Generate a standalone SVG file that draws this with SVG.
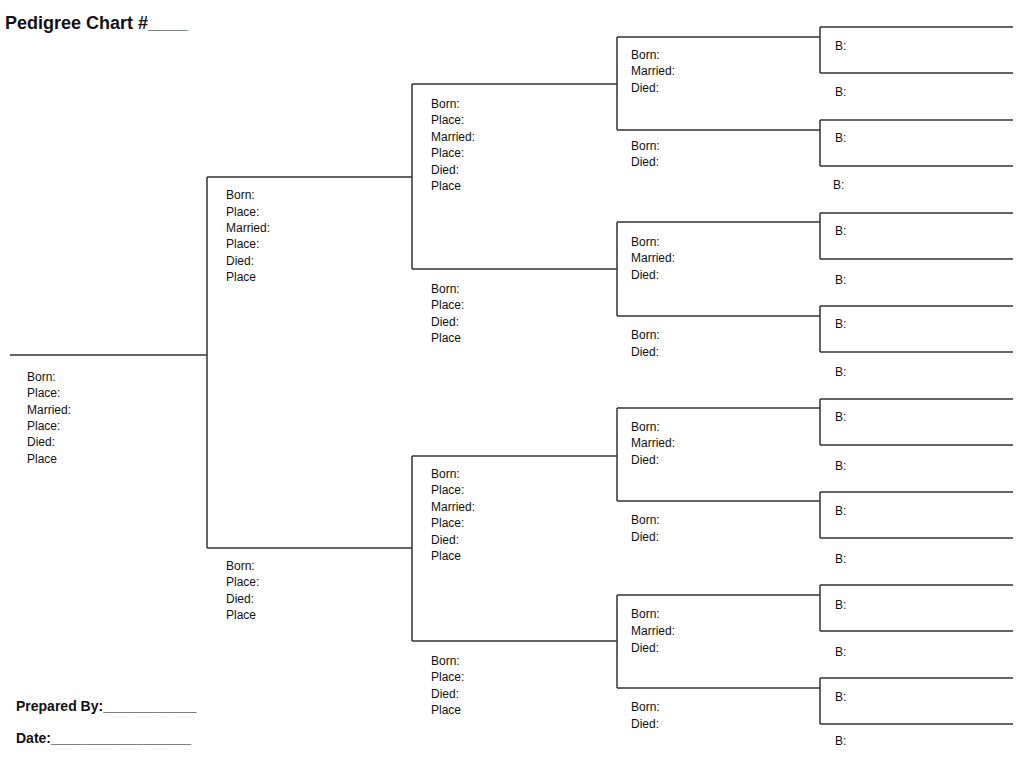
<svg xmlns="http://www.w3.org/2000/svg" width="1024" height="772" viewBox="0 0 1024 772">
<style>
.l{stroke:#333;stroke-width:1.5;fill:none}
text{font-family:"Liberation Sans",Arial,sans-serif;font-size:12px;fill:#111}
.t{font-size:18px;font-weight:bold}
.p{font-size:14px;font-weight:bold}
</style>
<rect width="1024" height="772" fill="#fff"/>
<text class="t" x="5" y="29">Pedigree Chart #____</text>
<g id="connectors">
<path class="l" d="M10 355H207M207 177V548M207 177H412M207 548H412
M412 84V269M412 84H617M412 269H617M412 456V641M412 456H617M412 641H617
M617 37V130M617 37H820M617 130H820
M617 222V316M617 222H820M617 316H820
M617 408V501M617 408H820M617 501H820
M617 595V688M617 595H820M617 688H820
M820 27V73M820 27H1013M820 73H1013
M820 120V166M820 120H1013M820 166H1013
M820 213V259M820 213H1013M820 259H1013
M820 306V352M820 306H1013M820 352H1013
M820 399V445M820 399H1013M820 445H1013
M820 492V538M820 492H1013M820 538H1013
M820 585V631M820 585H1013M820 631H1013
M820 678V724M820 678H1013M820 724H1013"/>
</g>
<g id="n1"><text x="27" y="381">Born:</text><text x="27" y="397">Place:</text><text x="27" y="414">Married:</text><text x="27" y="430">Place:</text><text x="27" y="446">Died:</text><text x="27" y="463">Place</text></g>
<g id="n2"><text x="226" y="199">Born:</text><text x="226" y="216">Place:</text><text x="226" y="232">Married:</text><text x="226" y="248">Place:</text><text x="226" y="265">Died:</text><text x="226" y="281">Place</text></g>
<g id="n3"><text x="226" y="570">Born:</text><text x="226" y="586">Place:</text><text x="226" y="603">Died:</text><text x="226" y="619">Place</text></g>
<g id="n4"><text x="431" y="108">Born:</text><text x="431" y="124">Place:</text><text x="431" y="141">Married:</text><text x="431" y="157">Place:</text><text x="431" y="174">Died:</text><text x="431" y="190">Place</text></g>
<g id="n5"><text x="431" y="293">Born:</text><text x="431" y="309">Place:</text><text x="431" y="326">Died:</text><text x="431" y="342">Place</text></g>
<g id="n6"><text x="431" y="478">Born:</text><text x="431" y="494">Place:</text><text x="431" y="511">Married:</text><text x="431" y="527">Place:</text><text x="431" y="544">Died:</text><text x="431" y="560">Place</text></g>
<g id="n7"><text x="431" y="665">Born:</text><text x="431" y="681">Place:</text><text x="431" y="698">Died:</text><text x="431" y="714">Place</text></g>
<g id="n8"><text x="631" y="59">Born:</text><text x="631" y="75">Married:</text><text x="631" y="92">Died:</text></g>
<g id="n9"><text x="631" y="150">Born:</text><text x="631" y="166">Died:</text></g>
<g id="n10"><text x="631" y="246">Born:</text><text x="631" y="262">Married:</text><text x="631" y="279">Died:</text></g>
<g id="n11"><text x="631" y="339">Born:</text><text x="631" y="356">Died:</text></g>
<g id="n12"><text x="631" y="431">Born:</text><text x="631" y="447">Married:</text><text x="631" y="464">Died:</text></g>
<g id="n13"><text x="631" y="524">Born:</text><text x="631" y="541">Died:</text></g>
<g id="n14"><text x="631" y="618">Born:</text><text x="631" y="635">Married:</text><text x="631" y="652">Died:</text></g>
<g id="n15"><text x="631" y="711">Born:</text><text x="631" y="728">Died:</text></g>
<g id="gen5">
<text x="835" y="50">B:</text><text x="835" y="96">B:</text>
<text x="835" y="142">B:</text><text x="833" y="189">B:</text>
<text x="835" y="235">B:</text><text x="835" y="284">B:</text>
<text x="835" y="328">B:</text><text x="835" y="376">B:</text>
<text x="835" y="421">B:</text><text x="835" y="470">B:</text>
<text x="835" y="515">B:</text><text x="835" y="563">B:</text>
<text x="835" y="609">B:</text><text x="835" y="656">B:</text>
<text x="835" y="701">B:</text><text x="835" y="745">B:</text>
</g>
<text class="p" x="16" y="711">Prepared By:____________</text>
<text class="p" x="16" y="743">Date:__________________</text>
</svg>
